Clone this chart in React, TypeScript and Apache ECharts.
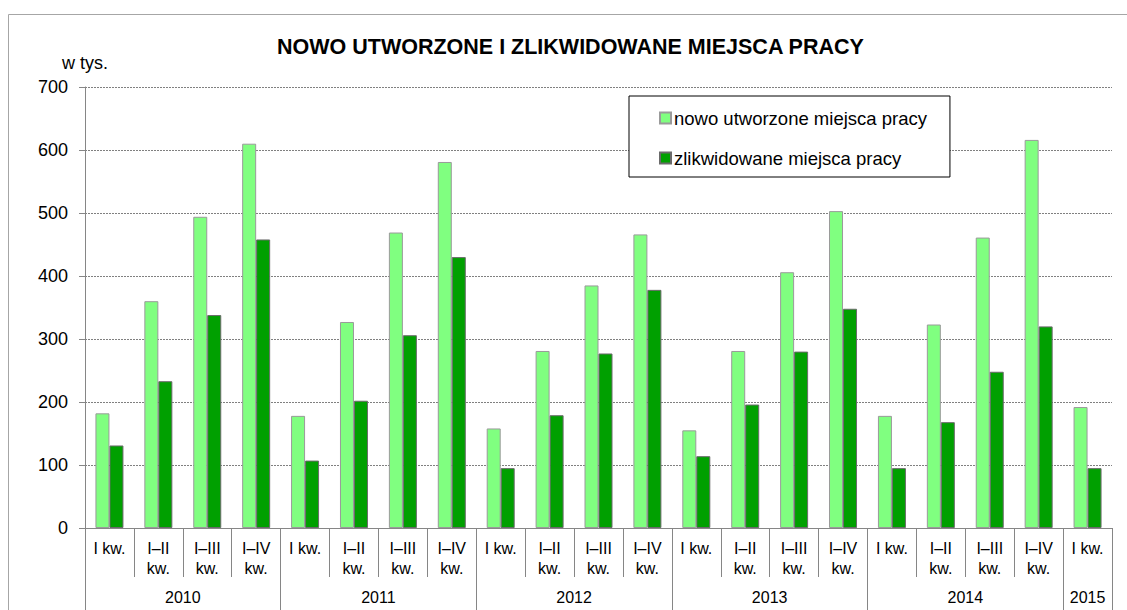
import React, { useEffect, useRef } from "react";
import * as echarts from "echarts";

const quarterLabels = [
  "I kw.", "I–II\nkw.", "I–III\nkw.", "I–IV\nkw.",
  "I kw.", "I–II\nkw.", "I–III\nkw.", "I–IV\nkw.",
  "I kw.", "I–II\nkw.", "I–III\nkw.", "I–IV\nkw.",
  "I kw.", "I–II\nkw.", "I–III\nkw.", "I–IV\nkw.",
  "I kw.", "I–II\nkw.", "I–III\nkw.", "I–IV\nkw.",
  "I kw.",
];
const years = ["2010", "2011", "2012", "2013", "2014", "2015"];
const yearSpans = [4, 4, 4, 4, 4, 1];

const newJobs = [182, 360, 494, 610, 178, 327, 469, 581, 158, 281, 385, 466, 155, 281, 406, 503, 178, 323, 461, 616, 192];
const liquidatedJobs = [131, 233, 338, 458, 107, 202, 306, 430, 95, 179, 277, 378, 114, 196, 280, 348, 95, 168, 248, 320, 95];

const yTicks = [0, 100, 200, 300, 400, 500, 600, 700];

const FONT = "'Liberation Sans', Arial, sans-serif";

export default function App() {
  const ref = useRef<HTMLDivElement>(null);

  useEffect(() => {
    if (!ref.current) return;
    const chart = echarts.init(ref.current, undefined, { renderer: "svg" });

    const boundaries: number[] = [0];
    const centers: number[] = [];
    let acc = 0;
    yearSpans.forEach((s) => {
      centers.push(acc + s / 2);
      acc += s;
      boundaries.push(acc);
    });

    const option: any = {
      animation: false,
      backgroundColor: "#fff",
      textStyle: { fontFamily: FONT },
      title: {
        text: "NOWO UTWORZONE I ZLIKWIDOWANE MIEJSCA PRACY",
        left: 277,
        top: 36,
        padding: 0,
        textStyle: { fontFamily: FONT, fontSize: 21.5, fontWeight: "bold", color: "#000", lineHeight: 22 },
      },
      legend: {
        orient: "vertical",
        left: 629,
        top: 96,
        padding: [12, 23, 9, 30],
        itemWidth: 11,
        itemHeight: 11,
        itemGap: 20,
        borderColor: "#000",
        borderWidth: 1,
        backgroundColor: "#fff",
        icon: "rect",
        textStyle: { fontFamily: FONT, fontSize: 18.5, color: "#000", lineHeight: 20, padding: [0, 0, 0, -2] },
        data: ["nowo utworzone miejsca pracy", "zlikwidowane miejsca pracy"],
      },
      grid: { left: 85, right: 15, top: 87, bottom: 82, containLabel: false },
      xAxis: [
        {
          type: "category",
          data: quarterLabels,
          position: "bottom",
          axisLine: { show: true, lineStyle: { color: "#868686", width: 1 } },
          axisTick: { show: true, interval: 0, length: 49, lineStyle: { color: "#868686" } },
          axisLabel: {
            interval: 0,
            fontFamily: FONT,
            fontSize: 16,
            lineHeight: 20,
            color: "#000",
            margin: 10,
          },
          splitLine: { show: false },
        },
        {
          type: "value",
          position: "bottom",
          min: 0,
          max: 21,
          axisLine: { show: false },
          splitLine: { show: false },
          axisTick: { show: true, customValues: boundaries, length: 82, lineStyle: { color: "#868686" } },
          axisLabel: {
            customValues: centers,
            formatter: (v: number) => {
              const i = centers.findIndex((c) => Math.abs(c - v) < 1e-6);
              return i >= 0 ? years[i] : "";
            },
            fontFamily: FONT,
            fontSize: 16,
            color: "#000",
            margin: 61,
          },
        },
      ],
      yAxis: {
        type: "value",
        min: 0,
        max: 700,
        interval: 100,
        axisLine: { show: true, lineStyle: { color: "#868686" } },
        axisTick: { show: true, length: 6, lineStyle: { color: "#868686" } },
        axisLabel: {
          fontFamily: FONT,
          fontSize: 18,
          color: "#000",
          margin: 17,
          formatter: (v: number) => (yTicks.includes(v) ? String(v) : ""),
        },
        splitLine: { show: true, lineStyle: { color: "#808080", type: [2, 1], width: 1 } },
      },
      graphic: [
        {
          type: "rect",
          shape: { x: 8.5, y: 14.5, width: 1130, height: 620 },
          style: { fill: "none", stroke: "#a6a6a6", lineWidth: 1 },
          silent: true,
          z: -1,
        },
        {
          type: "text",
          x: 62,
          y: 63,
          style: { text: "w tys.", fontFamily: FONT, fontSize: 18, fill: "#000", textVerticalAlign: "middle" },
        },
      ],
      series: [
        {
          name: "nowo utworzone miejsca pracy",
          type: "bar",
          xAxisIndex: 0,
          data: newJobs,
          barWidth: 14,
          barGap: "0%",
          itemStyle: { color: "#80FF80", borderColor: "#9a9a9a", borderWidth: 1 },
        },
        {
          name: "zlikwidowane miejsca pracy",
          type: "bar",
          xAxisIndex: 0,
          data: liquidatedJobs,
          barWidth: 14,
          barGap: "0%",
          itemStyle: { color: "#00A000", borderColor: "#6a6a6a", borderWidth: 1 },
        },
      ],
    };

    chart.setOption(option);
    return () => chart.dispose();
  }, []);

  return (
    <div
      ref={ref}
      style={{ position: "absolute", left: 0, top: 0, width: 1127, height: 610 }}
    />
  );
}
